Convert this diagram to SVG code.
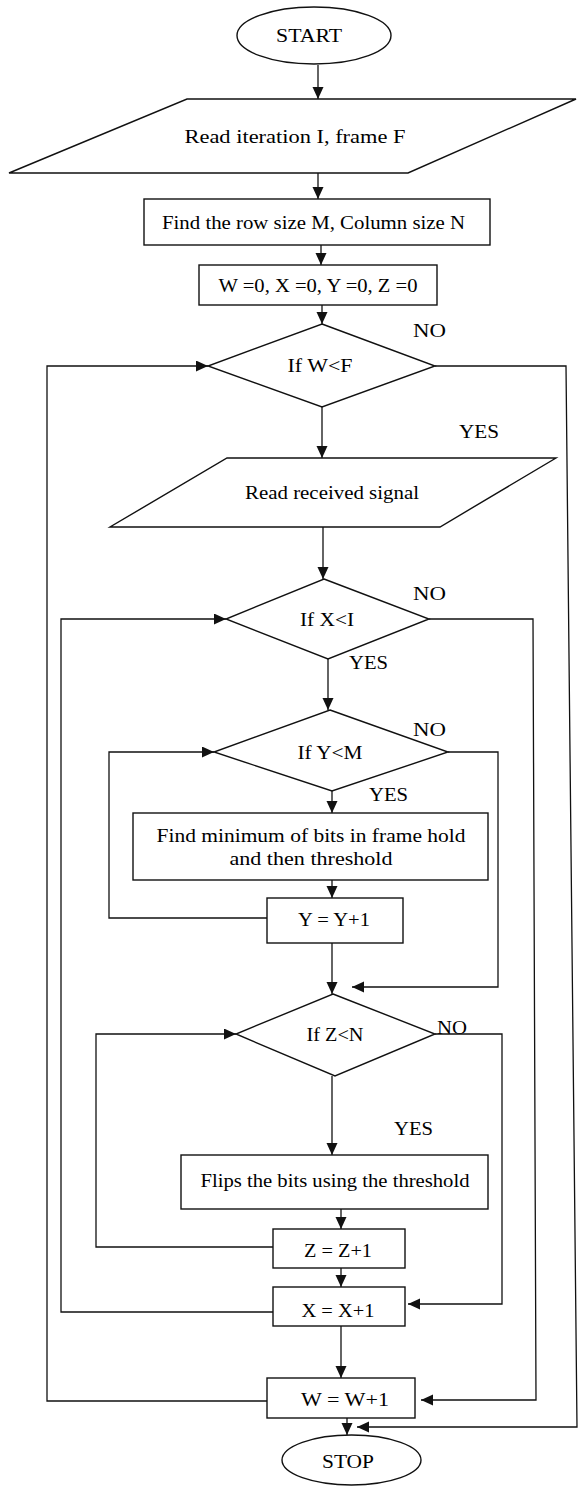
<svg xmlns="http://www.w3.org/2000/svg" width="578" height="1486" viewBox="0 0 578 1486">
<style>
.s{fill:#fff;stroke:#111;stroke-width:1.4}
.c{fill:none;stroke:#111;stroke-width:1.3}
text{font-family:"Liberation Serif","Times New Roman",serif;font-size:19px;fill:#000;text-anchor:middle}
</style>
<defs>
<marker id="ah" markerUnits="userSpaceOnUse" markerWidth="13" markerHeight="12" refX="12" refY="5.5" orient="auto">
<path d="M0,0 L12,5.5 L0,11 z" fill="#111"/>
</marker>
</defs>
<rect width="578" height="1486" fill="#fff"/>
<g id="connectors">
<path class="c" marker-end="url(#ah)" d="M318,65 V99"/>
<path class="c" marker-end="url(#ah)" d="M318,173 V199"/>
<path class="c" marker-end="url(#ah)" d="M321,245 V265"/>
<path class="c" marker-end="url(#ah)" d="M322,305 V324"/>
<path class="c" marker-end="url(#ah)" d="M322,407 V458"/>
<path class="c" marker-end="url(#ah)" d="M323,527 V579"/>
<path class="c" marker-end="url(#ah)" d="M328,659 V710"/>
<path class="c" marker-end="url(#ah)" d="M332,791 V813"/>
<path class="c" marker-end="url(#ah)" d="M332,880 V898"/>
<path class="c" marker-end="url(#ah)" d="M332,943 V994"/>
<path class="c" marker-end="url(#ah)" d="M332,1076 V1155"/>
<path class="c" marker-end="url(#ah)" d="M341,1209 V1229"/>
<path class="c" marker-end="url(#ah)" d="M341,1268 V1287"/>
<path class="c" marker-end="url(#ah)" d="M341,1326 V1378"/>
<path class="c" marker-end="url(#ah)" d="M347,1418 V1435"/>
<path class="c" marker-end="url(#ah)" d="M267,1401 H47 V366 H208"/>
<path class="c" marker-end="url(#ah)" d="M273,1312 H61 V619 H226"/>
<path class="c" marker-end="url(#ah)" d="M267,918 H109 V752 H214"/>
<path class="c" marker-end="url(#ah)" d="M273,1247 H96 V1034 H236"/>
<path class="c" marker-end="url(#ah)" d="M435,366 H566 L577,1427 H357"/>
<path class="c" marker-end="url(#ah)" d="M429,619 H533 L536,1400 H421"/>
<path class="c" marker-end="url(#ah)" d="M448,752 H498 V987 H352"/>
<path class="c" marker-end="url(#ah)" d="M435,1034 H502 V1304 H408"/>
</g>
<g id="start">
<ellipse class="s" cx="314" cy="35.5" rx="77" ry="28.5"/>
<text x="309" y="42" textLength="66" lengthAdjust="spacingAndGlyphs">START</text>
</g>
<g id="read-input">
<polygon class="s" points="187,99 576,99 408,173 9,173"/>
<text x="295" y="143" textLength="221" lengthAdjust="spacingAndGlyphs">Read iteration I, frame F</text>
</g>
<g id="find-size">
<rect class="s" x="144" y="199" width="346" height="46"/>
<text x="313.5" y="229" textLength="303" lengthAdjust="spacingAndGlyphs">Find the row size M, Column size N</text>
</g>
<g id="init">
<rect class="s" x="199" y="265" width="238" height="40"/>
<text x="318" y="292" textLength="199" lengthAdjust="spacingAndGlyphs">W =0, X =0, Y =0, Z =0</text>
</g>
<g id="if-w">
<polygon class="s" points="322,324 435,366 322,407 208,366"/>
<text x="320" y="372" textLength="65" lengthAdjust="spacingAndGlyphs">If W&lt;F</text>
<text x="429.5" y="337" textLength="33" lengthAdjust="spacingAndGlyphs">NO</text>
<text x="479" y="438" textLength="40" lengthAdjust="spacingAndGlyphs">YES</text>
</g>
<g id="read-signal">
<polygon class="s" points="227,458 556,458 440,527 110,527"/>
<text x="332" y="499" textLength="174" lengthAdjust="spacingAndGlyphs">Read received signal</text>
</g>
<g id="if-x">
<polygon class="s" points="324,579 429,619 328,659 226,619"/>
<text x="327" y="626" textLength="54" lengthAdjust="spacingAndGlyphs">If X&lt;I</text>
<text x="429.5" y="600" textLength="33" lengthAdjust="spacingAndGlyphs">NO</text>
<text x="368.5" y="669" textLength="39" lengthAdjust="spacingAndGlyphs">YES</text>
</g>
<g id="if-y">
<polygon class="s" points="330,710 448,752 332,791 214,752"/>
<text x="330" y="759" textLength="65" lengthAdjust="spacingAndGlyphs">If Y&lt;M</text>
<text x="429.5" y="736" textLength="33" lengthAdjust="spacingAndGlyphs">NO</text>
<text x="388.5" y="801" textLength="39" lengthAdjust="spacingAndGlyphs">YES</text>
</g>
<g id="find-min">
<rect class="s" x="133" y="813" width="355" height="67"/>
<text x="311" y="842" textLength="309" lengthAdjust="spacingAndGlyphs">Find minimum of bits in frame hold</text>
<text x="311" y="865" textLength="163" lengthAdjust="spacingAndGlyphs">and then threshold</text>
</g>
<g id="inc-y">
<rect class="s" x="267" y="898" width="136" height="45"/>
<text x="334" y="926" textLength="72" lengthAdjust="spacingAndGlyphs">Y = Y+1</text>
</g>
<g id="if-z">
<polygon class="s" points="333,994 435,1034 335,1076 236,1034"/>
<text x="335" y="1041" textLength="57" lengthAdjust="spacingAndGlyphs">If Z&lt;N</text>
<text x="452" y="1034" textLength="30" lengthAdjust="spacingAndGlyphs">NO</text>
<text x="413.5" y="1135" textLength="39" lengthAdjust="spacingAndGlyphs">YES</text>
</g>
<g id="flip">
<rect class="s" x="181" y="1155" width="307" height="54"/>
<text x="335" y="1187" textLength="269" lengthAdjust="spacingAndGlyphs">Flips the bits using the threshold</text>
</g>
<g id="inc-z">
<rect class="s" x="273" y="1229" width="132" height="39"/>
<text x="338" y="1257" textLength="68" lengthAdjust="spacingAndGlyphs">Z = Z+1</text>
</g>
<g id="inc-x">
<rect class="s" x="273" y="1287" width="132" height="39"/>
<text x="338" y="1317" textLength="73" lengthAdjust="spacingAndGlyphs">X = X+1</text>
</g>
<g id="inc-w">
<rect class="s" x="267" y="1378" width="148" height="40"/>
<text x="345" y="1406" textLength="88" lengthAdjust="spacingAndGlyphs">W = W+1</text>
</g>
<g id="stop">
<ellipse class="s" cx="351.5" cy="1460" rx="69.5" ry="25"/>
<text x="348" y="1468" textLength="52" lengthAdjust="spacingAndGlyphs">STOP</text>
</g>
</svg>
